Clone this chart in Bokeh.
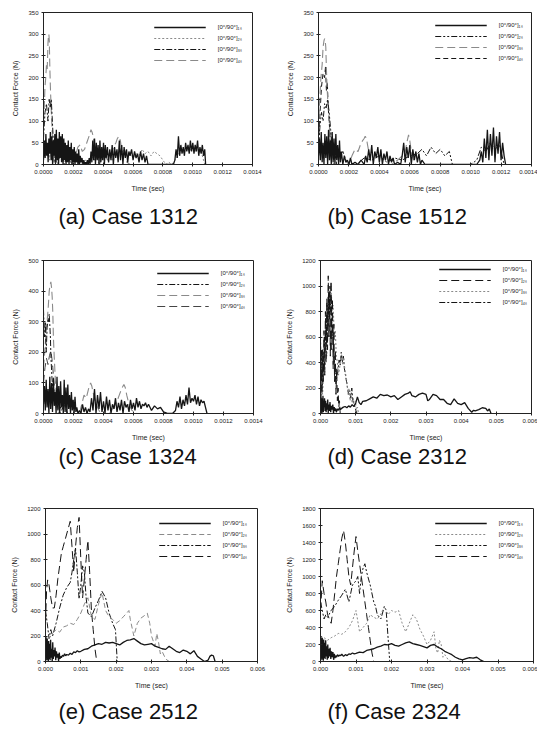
from bokeh.plotting import figure
from bokeh.layouts import column, row
from bokeh.models import Legend, LegendItem, FixedTicker, Range1d
from bokeh.embed import file_html
from bokeh.resources import INLINE

# ---------------- texts / ticks ----------------
CAPTIONS = ["(a) Case 1312", "(b) Case 1512", "(c) Case 1324",
            "(d) Case 2312", "(e) Case 2512", "(f) Case 2324"]
LEGEND_LABELS = ["[0°/90°]₁ₛ", "[0°/90°]₂ₛ", "[0°/90°]₃ₛ", "[0°/90°]₄ₛ"]
X_TITLE = "Time (sec)"
Y_TITLE = "Contact Force (N)"
# time values are in microseconds
X_TICKS_SHORT = [0, 200, 400, 600, 800, 1000, 1200, 1400]
X_LABELS_SHORT = ["0.0000", "0.0002", "0.0004", "0.0006", "0.0008", "0.0010", "0.0012", "0.0014"]
X_TICKS_LONG = [0, 1000, 2000, 3000, 4000, 5000, 6000]
X_LABELS_LONG = ["0.000", "0.001", "0.002", "0.003", "0.004", "0.005", "0.006"]
Y_TICKS_350 = [0, 50, 100, 150, 200, 250, 300, 350]
Y_TICKS_500 = [0, 100, 200, 300, 400, 500]
Y_TICKS_1200 = [0, 200, 400, 600, 800, 1000, 1200]
Y_TICKS_1800 = [0, 200, 400, 600, 800, 1000, 1200, 1400, 1600, 1800]

# ---------------- (a) Case 1312 ----------------
A_T1 = [0,6,11,16,21,26,31,36,41,46,51,56,61,66,71,76,81,86,91,96,101,106,111,116,121,126,131,136,141,146,151,156,161,166,171,176,181,186,191,196,201,206,211,216,221,226,231,236,241,246,
        252,258,264,270,276,282,288,294,300,306,312,318,324,330,336,342,348,354,360,366,372,378,384,390,396,402,408,414,420,
        428,436,444,452,460,468,476,484,492,500,508,516,524,532,540,548,556,564,572,580,
        590,600,610,620,630,640,650,660,670,680,690,700,870,
        880,888,896,904,912,920,928,936,944,952,960,968,976,984,992,1000,1008,1016,1024,1032,1040,1048,1056,1064,1072,1080,1086]
A_F1 = [10,55,15,70,20,50,5,60,25,75,10,65,0,55,20,70,5,80,10,60,0,75,15,65,5,70,0,60,10,50,0,45,5,55,0,40,10,50,0,35,5,40,0,30,5,25,0,35,0,20,
        5,15,0,10,0,5,0,10,0,15,0,30,5,55,10,60,0,50,10,45,0,55,5,40,10,50,0,45,15,40,5,35,10,45,0,40,15,35,5,55,10,45,0,40,15,35,5,30,20,35,10,30,15,25,5,30,10,25,5,20,0,
        0,
        10,35,15,65,20,45,25,40,20,50,30,45,25,55,30,50,25,45,30,55,20,40,25,45,20,35,0]
A_T2 = [0,8,16,24,32,40,48,56,64,72,80,90,100,110,120,130,140,150,160,170,180,190,200,210,220,235,250,265,280,
        300,320,340,360,380,400,420,440,460,480,500,520,540,560,580,600,620,640,660,680,700,720,740,760,780,800,820,840,860,880,900,920,940,960,980,1000,1020,1040,1060,1080]
A_F2 = [40,20,50,30,45,10,40,25,50,15,35,10,45,20,30,5,35,15,25,5,20,0,15,5,10,0,5,0,10,
        5,20,10,30,15,35,20,25,10,30,15,25,35,20,30,15,25,20,35,25,30,20,30,25,20,10,0,5,0,10,20,35,25,40,30,45,30,35,25,0]
A_T3 = [0,10,20,30,38,45,52,58,65,72,80,90,100,120,140,160,180,200,240]
A_F3 = [60,120,140,100,150,130,150,110,60,20,0,30,10,30,0,25,5,0,0]
A_T4 = [0,5,10,15,20,25,30,33,36,39,42,46,50,55,60,65,70,80,100,200,215,230,245,260,275,290,300,310,318,325,333,340,350,360,375,390,410,430,450,470,485,495,505,515,525,540,560,580,600]
A_F4 = [100,130,180,200,230,220,280,295,300,285,230,180,140,100,60,20,0,10,0,0,20,40,45,30,35,50,60,70,80,75,65,40,20,10,0,15,20,10,25,40,50,60,65,55,30,10,5,0,0]

# ---------------- (b) Case 1512 ----------------
B_T1 = [0,6,12,18,24,30,36,42,48,54,60,66,72,78,84,90,96,102,108,114,120,126,132,138,144,150,
        160,170,180,190,200,210,220,240,260,280,
        300,310,320,330,340,350,360,370,380,390,400,410,420,430,440,450,460,470,480,490,500,520,540,
        550,560,570,580,590,600,610,620,630,640,650,660,670,680,700,1040,
        1060,1070,1080,1090,1100,1110,1120,1130,1140,1150,1160,1170,1180,1190,1200,1210,1220,1230]
B_F1 = [20,60,10,75,5,50,0,70,15,65,0,80,10,55,0,75,5,60,0,70,10,45,0,55,5,30,
        0,20,5,10,0,15,0,5,0,10,
        0,20,5,35,10,45,0,30,15,40,5,35,0,25,10,30,0,20,5,15,0,5,0,
        20,50,5,40,15,45,0,35,10,30,5,25,0,10,0,0,
        10,30,5,60,15,80,10,70,20,85,5,65,25,75,10,50,20,0]
B_T2 = [0,10,20,30,40,50,60,70,80,90,100,120,140,160,180,200,250,300,350,400,450,500,550,600,650,680,710,740,770,800,830,860,880,900,1000,1040,1070,1100,1130,1160,1190,1220]
B_F2 = [40,90,120,100,140,130,150,120,80,30,10,40,20,30,10,0,0,15,10,20,5,15,10,20,25,35,20,40,25,35,20,30,0,0,0,10,40,30,50,35,45,0]
B_T3 = [0,8,16,24,30,36,40,44,48,52,56,62,68,75,85,100,200,220,240,260,275,290,300,307,315,325,340,360,400,480,520,550,570,580,592,600,610,625,640,700]
B_F3 = [80,150,200,230,270,285,290,285,270,220,180,140,120,60,20,0,0,20,35,30,45,55,60,65,60,40,10,0,0,0,10,20,30,50,68,55,30,10,0,0]
B_T4 = [0,10,20,30,40,46,52,58,64,70,80,90,100,110,120]
B_F4 = [50,120,180,210,200,225,170,190,130,100,40,60,10,20,0]

# ---------------- (c) Case 1324 ----------------
C_T1 = [0,6,12,18,24,30,36,42,48,54,60,66,72,78,84,90,96,102,108,114,120,126,132,138,144,150,156,162,168,174,180,186,192,198,204,210,216,222,
        230,240,250,260,270,280,290,300,310,320,330,340,350,360,370,380,390,400,410,420,430,440,450,460,470,480,490,500,510,520,530,540,550,560,570,580,590,600,610,620,630,640,650,660,670,680,690,700,
        720,740,760,780,800,830,860,
        880,890,900,910,920,930,940,950,960,970,980,990,1000,1010,1020,1030,1040,1050,1060,1070,1080,1090]
C_F1 = [30,90,10,110,20,80,0,120,15,100,5,115,25,70,0,120,10,90,0,105,20,60,0,110,5,85,0,95,15,60,0,70,10,45,0,55,5,20,
        0,10,0,30,5,20,0,15,5,50,10,80,0,60,15,70,5,40,0,55,10,45,0,30,15,50,5,35,10,45,0,40,20,30,5,45,15,35,10,50,20,40,15,30,25,35,20,30,
        10,25,15,20,5,0,0,
        10,40,20,55,15,45,25,60,30,85,35,50,40,60,30,55,25,45,35,40,20,0]
C_T2 = [0,6,12,18,24,30,34,38,42,46,50,56,62,70,80,90,100,120,140,160,200]
C_F2 = [340,250,300,200,280,310,300,325,290,250,180,120,80,40,60,20,40,10,30,0,0]
C_T3 = [0,8,16,24,32,38,44,49,54,58,62,66,72,80,90,100,240,255,270,285,300,314,322,330,345,360,380,440,470,490,505,520,536,545,555,570,590,620]
C_F3 = [150,200,260,300,350,400,420,430,410,380,330,250,180,100,40,0,0,30,60,50,80,100,90,70,40,20,0,0,20,40,60,80,95,85,60,30,10,0]
C_T4 = [0,10,20,30,40,49,56,62,70,80,90,100,120]
C_F4 = [100,150,180,160,190,205,180,150,100,60,30,10,0]

# ---------------- (d) Case 2312 ----------------
D_T1 = [0,10,20,30,40,50,60,70,80,90,100,115,130,145,160,175,190,205,220,235,250,270,290,310,330,350,370,390,410,430,450,480,510,540,570,600,
        650,700,750,800,850,900,950,1000,1050,1100,1150,1200,1300,1400,1500,1600,1700,1800,1900,2000,2100,2200,2300,2400,2500,2550,
        2600,2700,2800,2900,3000,3050,3100,3200,3300,3400,3500,3600,3700,3800,3900,4000,4100,4200,4300,4350,4400,4500,4600,4700,4750,4800,4850]
D_F1 = [0,150,20,120,0,100,30,140,10,90,50,120,20,100,10,80,30,110,5,70,20,90,10,60,30,70,0,50,20,40,10,35,25,45,30,40,
        50,55,45,60,50,70,55,80,130,85,70,95,100,115,130,120,150,140,145,130,140,110,130,150,160,170,
        140,130,150,160,150,100,110,150,140,110,110,80,70,115,80,70,85,40,10,25,20,30,45,40,20,35,0]
D_T2 = [0,20,40,60,80,100,120,140,160,180,200,220,240,260,280,300,320,340,360,380,400,420,440,460,480,500,520,540,560]
D_F2 = [100,350,150,500,250,650,300,800,400,900,500,1080,600,950,450,1040,500,900,350,700,250,500,150,350,100,200,50,100,0]
D_T3 = [0,30,60,90,120,150,180,210,240,270,300,330,360,390,420,450,480,510,540,570,600,630,660,690,720,750,780,810,840,870,900,930,960,990,1020,1050,1080]
D_F3 = [50,200,150,350,300,500,450,700,600,900,1000,800,850,600,650,450,400,300,350,420,460,380,440,350,300,250,150,200,100,150,80,120,60,100,30,50,0]
D_T4 = [0,15,30,50,70,90,110,130,150,170,190,210,230,250,270,290,310,330,350,380,410,440,470,500,530,560,590,620,650,680,710,740,770,800,830,860,890,920,950,980,1010,1040]
D_F4 = [620,300,500,200,450,350,600,450,700,550,850,650,950,750,1000,800,900,600,700,450,350,250,300,350,420,380,480,400,450,350,300,250,200,150,180,120,200,100,80,50,20,0]

# ---------------- (e) Case 2512 ----------------
E_T1 = [0,10,20,30,40,50,60,70,80,90,100,115,130,145,160,175,190,205,220,235,250,270,290,310,330,350,370,390,410,430,450,480,510,540,570,600,
        650,700,750,800,850,900,950,1000,
        1100,1200,1300,1400,1500,1600,1700,1800,1900,2000,2100,2200,2300,2400,2500,2600,2700,2800,2900,3000,3100,3200,3300,3400,3500,3600,3700,3800,3900,4000,4100,4200,4300,4400,4500,4600,
        4650,4700,4750,4800]
E_F1 = [0,200,30,150,10,180,40,120,0,160,20,140,10,170,30,100,0,150,20,90,40,110,10,80,30,60,0,70,20,40,30,50,40,60,45,55,
        50,65,55,75,70,85,75,80,
        95,100,120,130,140,135,150,145,150,140,130,150,165,170,180,160,140,130,135,140,120,110,100,95,120,100,80,70,90,80,60,85,40,20,0,10,
        40,50,45,0]
E_T2 = [0,50,100,200,300,400,500,600,700,800,900,1000,1100,1200,1300,1400,1500,1600,1700,1800,1900,2000,2100,2200,2300,2360,2400,2500,2600,2700,2800,2880,2950,3000,3100,3150,3200,3250,3300,3400,3500]
E_F2 = [150,200,180,220,250,230,270,280,300,290,330,380,450,500,350,330,450,540,400,350,330,300,320,350,380,400,330,200,300,340,360,380,300,200,120,220,150,60,80,20,0]
E_T3 = [0,50,100,150,200,300,400,500,600,700,750,800,850,900,950,1000,1050,1100,1150,1200,1300,1400,1500,1600,1700,1800,1900,1980,2030]
E_F3 = [400,300,180,250,200,300,420,520,580,620,700,800,890,700,490,600,750,700,500,380,350,420,480,550,500,380,300,250,0]
E_T4 = [0,30,60,100,150,200,250,300,350,400,450,500,550,600,650,700,750,800,850,900,950,1000,1050,1100,1150,1200,1250,1300,1350,1400,1450]
E_F4 = [300,550,640,600,500,420,420,520,650,750,850,900,950,1000,1050,1100,900,700,900,1050,1130,800,500,650,800,950,700,400,250,100,0]

# ---------------- (f) Case 2324 ----------------
F_T1 = [0,10,20,30,40,50,60,70,80,90,100,115,130,145,160,175,190,205,220,235,250,270,290,310,330,350,370,390,410,430,450,480,510,540,570,600,
        650,700,750,800,850,900,950,1000,
        1100,1200,1300,1400,1500,1600,1700,1800,1900,2000,2100,2200,2300,2400,2500,2600,2700,2800,2900,3000,3100,3200,3300,3400,3500,3600,3700,3800,3900,4000,4100,4200,4300,4400,4500,4600]
F_F1 = [0,300,50,250,20,280,60,200,10,260,40,220,30,250,60,180,20,200,40,150,60,160,30,120,50,110,20,90,40,70,50,80,60,75,70,85,
        60,80,70,90,85,100,90,95,
        110,105,130,140,150,170,180,200,195,210,190,180,200,220,230,210,200,190,175,160,190,200,170,150,120,100,80,50,30,20,35,45,40,50,20,0]
F_T2 = [0,100,200,300,400,500,600,700,800,900,1000,1100,1200,1300,1400,1500,1600,1700,1800,1900,2000,2100,2200,2300,2400,2500,2600,2700,2800,2900,3000,3100,3200,3250,3300,3350,3400,3450,3500,3600,3700]
F_F2 = [300,280,250,280,300,330,320,350,400,480,600,350,400,450,550,520,500,560,650,550,600,580,600,450,350,450,550,500,380,300,200,250,350,150,100,250,200,50,80,20,0]
F_T3 = [0,50,100,150,200,300,400,500,600,700,800,900,1000,1050,1100,1150,1200,1250,1300,1400,1500,1550,1600,1700,1800,1850,1900,1950]
F_F3 = [700,600,500,550,520,600,650,720,780,850,700,900,950,1000,800,1000,1100,1150,1050,900,700,650,550,500,650,600,300,0]
F_T4 = [0,50,100,150,200,250,300,350,400,450,500,550,600,650,700,750,800,850,900,950,1000,1050,1100,1150,1200,1250,1300,1350,1400,1450,1500]
F_F4 = [600,950,800,700,550,500,450,600,800,1000,1150,1300,1450,1540,1400,1200,1000,900,1100,1300,1470,1300,1150,1000,850,700,550,400,250,100,0]

# ---------------- styles (color, width, dash) ----------------
BLK = "#151515"
GRY = "#8a8a8a"
STY_A = [(BLK, 1.3, "solid"), (GRY, 1.0, "2 2"), (BLK, 1.0, "6 2 2 2"), (GRY, 1.1, "8 4")]
STY_B = [(BLK, 1.3, "solid"), (BLK, 1.0, "6 2 2 2 2 2"), (GRY, 1.1, "8 4"), (BLK, 1.0, "5 3")]
STY_C = [(BLK, 1.3, "solid"), (BLK, 1.0, "6 2 2 2"), (GRY, 1.1, "8 4"), (BLK, 0.8, "8 4")]
STY_D = [(BLK, 1.3, "solid"), (BLK, 1.0, "8 4"), (GRY, 1.1, "2 2"), (BLK, 1.0, "6 2 2 2")]
STY_E = [(BLK, 1.3, "solid"), (GRY, 1.0, "5 3"), (BLK, 1.0, "6 2 2 2"), (BLK, 1.0, "8 4")]
STY_F = [(BLK, 1.3, "solid"), (GRY, 1.0, "2 2"), (BLK, 1.0, "6 2 2 2 2 2"), (BLK, 1.0, "8 4")]

FONT = "Liberation Sans"


def make_panel(caption, series, styles, xticks, xlabels, yticks,
               w, h, bl, br, bt, bb, cap_off, cap_stand, leg_margin):
    p = figure(width=w, height=h, output_backend="svg", toolbar_location=None,
               x_range=Range1d(xticks[0], xticks[-1]),
               y_range=Range1d(yticks[0], yticks[-1]),
               min_border_left=bl, min_border_right=br,
               min_border_top=bt, min_border_bottom=bb,
               title=caption, title_location="below")
    p.title.text_font = FONT
    p.title.text_font_size = "22px"
    p.title.text_font_style = "normal"
    p.title.text_color = "#111111"
    p.title.align = "left"
    p.title.offset = cap_off
    p.title.standoff = cap_stand
    p.grid.visible = False
    p.outline_line_color = "#222222"
    p.outline_line_width = 1
    p.border_fill_color = "white"
    for ax in (p.xaxis[0], p.yaxis[0]):
        ax.axis_line_color = "#222222"
        ax.major_tick_line_color = "#222222"
        ax.minor_tick_line_color = None
        ax.major_tick_in = 2
        ax.major_tick_out = 2
        ax.major_label_text_font = FONT
        ax.major_label_text_font_size = "6px"
        ax.major_label_text_color = "#222222"
        ax.major_label_standoff = 3
        ax.axis_label_text_font = FONT
        ax.axis_label_text_font_size = "7px"
        ax.axis_label_text_font_style = "normal"
        ax.axis_label_text_color = "#222222"
    p.xaxis.ticker = FixedTicker(ticks=xticks)
    p.xaxis.major_label_overrides = dict(zip(xticks, xlabels))
    p.yaxis.ticker = FixedTicker(ticks=yticks)
    p.xaxis.axis_label = X_TITLE
    p.xaxis.axis_label_standoff = 8
    p.yaxis.axis_label = Y_TITLE
    p.yaxis.axis_label_standoff = 6

    rends = [None] * 4
    for i in (3, 2, 1, 0):
        t, f = series[i]
        n = min(len(t), len(f))
        c, lw, dash = styles[i]
        rends[i] = p.line(t[:n], f[:n], line_color=c, line_width=lw, line_dash=dash)
    items = [LegendItem(label=LEGEND_LABELS[i], renderers=[rends[i]]) for i in range(4)]
    leg = Legend(items=items, location="top_right")
    leg.border_line_color = None
    leg.background_fill_alpha = 0
    leg.glyph_width = 52
    leg.glyph_height = 10
    leg.label_height = 10
    leg.label_width = 20
    leg.spacing = 1
    leg.padding = 2
    leg.margin = leg_margin
    leg.label_standoff = 12
    leg.label_text_font = FONT
    leg.label_text_font_size = "6px"
    leg.label_text_color = "#222222"
    p.add_layout(leg)
    return p


# page has no margin: columns at x 0 / 267, rows at y 0 / 240 / 475
pa = make_panel(CAPTIONS[0], [(A_T1, A_F1), (A_T2, A_F2), (A_T3, A_F3), (A_T4, A_F4)], STY_A,
                X_TICKS_SHORT, X_LABELS_SHORT, Y_TICKS_350,
                267, 240, 43, 15, 12, 76, 15, 15, 10)
pb = make_panel(CAPTIONS[1], [(B_T1, B_F1), (B_T2, B_F2), (B_T3, B_F3), (B_T4, B_F4)], STY_B,
                X_TICKS_SHORT, X_LABELS_SHORT, Y_TICKS_350,
                270, 240, 51, 6, 12, 76, 9, 15, 8)
pc = make_panel(CAPTIONS[2], [(C_T1, C_F1), (C_T2, C_F2), (C_T3, C_F3), (C_T4, C_F4)], STY_C,
                X_TICKS_SHORT, X_LABELS_SHORT, Y_TICKS_500,
                267, 235, 43, 14, 20, 62, 15, -3, 8)
pd_ = make_panel(CAPTIONS[3], [(D_T1, D_F1), (D_T2, D_F2), (D_T3, D_F3), (D_T4, D_F4)], STY_D,
                 X_TICKS_LONG, X_LABELS_LONG, Y_TICKS_1200,
                 270, 235, 53, 6, 20, 62, 7, -3, 4)
pe = make_panel(CAPTIONS[4], [(E_T1, E_F1), (E_T2, E_F2), (E_T3, E_F3), (E_T4, E_F4)], STY_E,
                X_TICKS_LONG, X_LABELS_LONG, Y_TICKS_1200,
                267, 256, 45, 10, 33, 70, 13, 10, 10)
pf = make_panel(CAPTIONS[5], [(F_T1, F_F1), (F_T2, F_F2), (F_T3, F_F3), (F_T4, F_F4)], STY_F,
                X_TICKS_LONG, X_LABELS_LONG, Y_TICKS_1800,
                270, 256, 53, 4, 33, 70, 7, 10, 10)

layout = column(row(pa, pb), row(pc, pd_), row(pe, pf))
open("out.html", "w").write(file_html(layout, INLINE))
